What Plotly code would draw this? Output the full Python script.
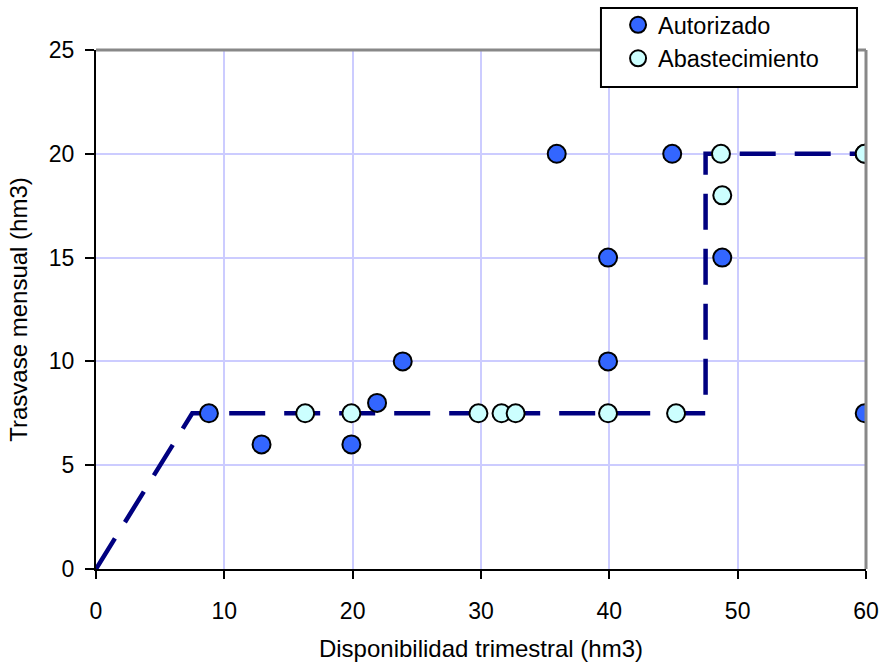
import plotly.graph_objects as go

# Data
aut_x = [8.8, 12.9, 19.9, 21.9, 23.9, 35.9, 44.9, 39.9, 39.9, 48.8, 59.9, 59.9]
aut_y = [7.5, 6, 6, 8, 10, 20, 20, 15, 10, 15, 7.5, 20]
aba_x = [16.3, 19.9, 29.8, 31.6, 32.7, 39.9, 45.2, 48.7, 48.8, 59.9]
aba_y = [7.5, 7.5, 7.5, 7.5, 7.5, 7.5, 7.5, 20, 18, 20]
rule_x = [0, 7.5, 47.5, 47.5, 60]
rule_y = [0, 7.5, 7.5, 20, 20]

FAM = "Liberation Sans, Arial, sans-serif"

fig = go.Figure()
fig.add_trace(go.Scatter(x=rule_x, y=rule_y, mode="lines", showlegend=False,
                         line=dict(color="#000080", width=4.5, dash="36px,19px")))
fig.add_trace(go.Scatter(x=aut_x, y=aut_y, mode="markers", name="Autorizado",
                         marker=dict(size=18, color="#3366ff", line=dict(color="black", width=2))))
fig.add_trace(go.Scatter(x=aba_x, y=aba_y, mode="markers", name="Abastecimiento",
                         marker=dict(size=18, color="#ccffff", line=dict(color="black", width=2))))

fig.update_layout(
    width=879, height=664,
    margin=dict(l=96, r=13, t=50, b=95, autoexpand=False),
    paper_bgcolor="white", plot_bgcolor="white",
    font=dict(family=FAM, size=23, color="black"),
    legend=dict(x=0.678, y=0.9955, xref="paper", yref="container", xanchor="left", yanchor="top",
                borderwidth=0, bgcolor="rgba(0,0,0,0)",
                font=dict(family=FAM, size=23.5, color="black"),
                itemwidth=30),
    xaxis=dict(range=[0, 60], dtick=10, tick0=0, showgrid=True, gridcolor="#ccccff", gridwidth=2,
               showline=True, linecolor="black", linewidth=2, ticks="outside", ticklen=8,
               tickcolor="black", tickwidth=2, zeroline=False, ticklabelstandoff=12,
               tickfont=dict(family=FAM, size=23, color="black"),
               title=dict(text="Disponibilidad trimestral (hm3)", standoff=18,
                          font=dict(family=FAM, size=24, color="black"))),
    yaxis=dict(range=[0, 25], dtick=5, tick0=0, showgrid=True, gridcolor="#ccccff", gridwidth=2,
               showline=True, linecolor="black", linewidth=2, ticks="outside", ticklen=9,
               tickcolor="black", tickwidth=2, zeroline=False, ticklabelstandoff=6,
               tickfont=dict(family=FAM, size=23, color="black"),
               title=dict(text="Trasvase mensual (hm3)", standoff=14,
                          font=dict(family=FAM, size=24, color="black"))),
    shapes=[
        dict(type="line", xref="paper", yref="paper", x0=0, x1=1, y0=1, y1=1,
             line=dict(color="#888888", width=3)),
        dict(type="line", xref="paper", yref="paper", x0=1, x1=1, y0=0, y1=1,
             line=dict(color="#888888", width=3)),
        dict(type="rect", xref="paper", yref="paper", x0=0.6558, x1=0.9883, y0=0.9287, y1=1.0809,
             line=dict(color="black", width=2), fillcolor="white", layer="above"),
    ],
)
fig.write_html("out.html")
